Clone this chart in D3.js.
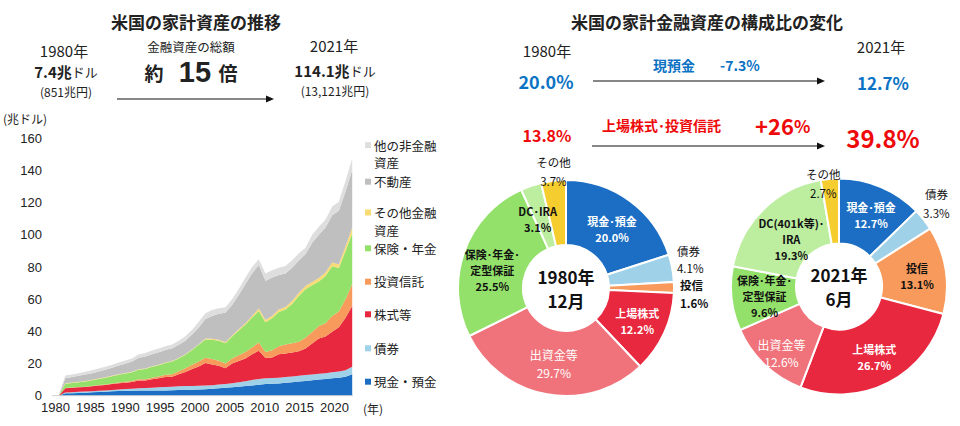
<!DOCTYPE html>
<html><head><meta charset="utf-8">
<script src="https://cdn.jsdelivr.net/npm/d3@7"></script>
<style>
body{margin:0;background:#fff}
svg{display:block}
text{font-family:"Noto Sans CJK JP","Noto Sans",sans-serif;fill:#222}
.num{font-family:"Liberation Sans",Arial,sans-serif}
</style>
</head><body>
<svg id="c" width="960" height="426"></svg>
<script>
// ---------- Area chart data (trillion USD) ----------
const years = d3.range(1977, 2022);
const cash        = [0,1.5,1.6,1.7,1.9,2.1,2.3,2.5,2.7,2.9,3.0,3.1,3.2,3.3,3.3,3.3,3.3,3.4,3.5,3.6,3.7,3.8,4.0,4.3,4.6,4.9,5.2,5.6,6.0,6.4,6.8,7.2,7.4,7.6,8.0,8.4,8.8,9.2,9.6,10.0,10.4,10.8,11.2,11.8,13.3];
const bonds       = [0,0.5,0.6,0.7,0.7,0.7,0.8,0.8,0.9,1.0,1.1,1.2,1.4,1.5,1.7,1.9,2.1,2.2,2.3,2.4,2.4,2.4,2.3,2.2,2.3,2.4,2.6,2.8,3.0,3.4,3.6,3.6,3.6,3.6,3.6,3.6,3.6,3.6,3.6,3.6,3.6,3.8,3.8,4.0,4.7];
const stocks      = [0,2.6,2.7,2.8,2.8,3.0,3.2,3.4,3.6,3.8,4.0,4.2,4.8,4.6,5.3,5.6,6.2,6.2,7.6,8.8,10.5,12.0,14.1,12.9,11.7,9.7,12.2,13.2,14.2,16.0,17.6,12.6,12.8,14.6,14.6,14.8,15.2,16.6,19.2,22.0,22.8,25.2,27.6,32.6,37.7];
const funds       = [0,0.2,0.2,0.2,0.2,0.2,0.3,0.3,0.4,0.5,0.6,0.7,0.8,0.8,0.9,1.1,1.4,1.6,1.8,2.2,2.6,3.0,3.2,3.4,3.2,3.0,3.2,3.6,4.0,4.2,5.0,3.8,4.4,5.0,5.6,5.8,6.0,6.6,7.2,7.8,8.2,9.8,9.8,11.6,13.7];
const insurance   = [0,2.6,2.8,3.0,3.3,3.6,3.8,4.1,4.5,4.8,5.1,5.4,6.0,6.4,6.8,7.1,7.4,7.8,8.0,8.4,9.2,10.4,11.4,12.0,12.4,12.6,13.6,15.4,17.0,18.6,19.6,18.4,20.0,21.2,21.8,24.4,28.4,30.2,29.0,27.6,29.4,30.8,27.0,30.0,31.5];
const otherFin    = [0,0.3,0.3,0.3,0.3,0.3,0.3,0.3,0.3,0.3,0.3,0.3,0.3,0.3,0.3,0.3,0.3,0.3,0.3,0.3,0.3,0.4,0.6,0.6,0.6,0.6,0.6,0.7,0.8,1.0,1.6,1.4,1.4,1.6,1.6,1.8,2.0,2.0,2.0,2.2,2.2,2.4,2.2,2.8,3.5];
const realEstate  = [0,3.2,3.4,3.7,4.0,4.1,4.3,4.7,5.0,5.4,5.8,6.3,7.1,7.5,7.5,7.7,7.7,7.9,8.1,8.5,9.3,10.4,12.0,14.2,16.2,18.4,19.0,21.3,24.4,26.4,27.0,24.4,23.8,21.4,20.8,20.8,20.0,19.8,24.4,26.8,28.0,29.4,33.4,34.2,35.9];
const otherNonFin = [0,1.6,1.6,1.6,1.7,1.8,1.9,1.9,1.9,1.9,2.0,2.0,2.2,2.2,2.3,2.4,2.4,2.5,2.6,2.8,3.0,3.6,3.6,3.6,3.4,3.4,3.6,3.8,4.0,4.0,3.6,4.6,4.6,4.6,4.6,4.6,4.5,4.0,5.0,5.0,5.0,5.4,5.6,6.6,7.2];

const seriesKeys   = ["cash","bonds","stocks","funds","insurance","otherFin","realEstate","otherNonFin"];
const seriesValues = [cash,bonds,stocks,funds,insurance,otherFin,realEstate,otherNonFin];
const legendLabels = [["現金・預金"],["債券"],["株式等"],["投資信託"],["保険・年金"],["その他金融","資産"],["不動産"],["他の非金融","資産"]];
const seriesColors = ["#1b6ec3","#9fd1e8","#e8283e","#f79a5b","#93e16b","#f8dc73","#bfbfbf","#dedede"];
const yTicks = d3.range(0, 161, 20);
const xTickYears = d3.range(1980, 2021, 5);

// ---------- Pie data (%) ----------
const pieCategories = ["現金・預金","債券","投信","上場株式","出資金等","保険・年金・定型保証","DC・IRA","その他"];
const pie1980 = [20.0,4.1,1.6,12.2,29.7,25.5,3.1,3.7];
const pie2021 = [12.7,3.3,13.1,26.7,12.6,9.6,19.3,2.7];
const pieColors = ["#1b6ec3","#9fd1e8","#f79a5b","#e8283e","#f0737b","#93e16b","#bdeea0","#f6cd2e"];

const svg = d3.select("#c");
const BLUE = "#0b72c4", RED = "#ee0a0a";

// ---------- Area chart ----------
const x = d3.scaleLinear().domain([1977, 2021]).range([58.6, 352.2]);
const xAxisScale = d3.scaleLinear().domain([1980, 2020]).range([55, 334]);
const y = d3.scaleLinear().domain([0, 160]).range([395.7, 138.3]);

const table = years.map((yr, i) => {
  const o = {year: yr};
  seriesKeys.forEach((k, j) => o[k] = seriesValues[j][i]);
  return o;
});
const stack = d3.stack().keys(seriesKeys)(table);
const area = d3.area().x(d => x(d.data.year)).y0(d => y(d[0])).y1(d => y(d[1]));
svg.append("g").selectAll("path").data(stack).join("path")
  .attr("d", area).attr("fill", (d, i) => seriesColors[i]);

svg.append("line").attr("x1", 52).attr("x2", 353).attr("y1", y(0)).attr("y2", y(0))
  .attr("stroke", "#d0d0d0").attr("stroke-width", 1);

const yAxis = d3.axisLeft(y).tickValues(yTicks).tickSize(0).tickPadding(0);
svg.append("g").attr("transform", "translate(42,0)").call(yAxis)
  .call(g => g.select(".domain").remove())
  .call(g => g.selectAll("text").attr("class", "num").style("font-size", "13px").attr("fill", "#222"));

const xAxis = d3.axisBottom(xAxisScale).tickValues(xTickYears).tickFormat(d3.format("d")).tickSize(0).tickPadding(0);
svg.append("g").attr("transform", "translate(0,403)").call(xAxis)
  .call(g => g.select(".domain").remove())
  .call(g => g.selectAll("text").attr("class", "num").style("font-size", "13px").attr("fill", "#222"));
svg.append("text").attr("x", 363).attr("y", 414).style("font-size", "12px").text("(年)");
svg.append("text").attr("x", 3).attr("y", 124).style("font-size", "12px").text("(兆ドル)");

// legend
const legendY = [381.7, 348.3, 314.3, 281.7, 248.3, 212.5, 181.7, 145.2];
const lg = svg.append("g");
seriesKeys.forEach((k, i) => {
  lg.append("rect").attr("x", 365).attr("y", legendY[i] - 3).attr("width", 6).attr("height", 6).attr("fill", seriesColors[i]);
  legendLabels[i].forEach((t, j) => {
    lg.append("text").attr("x", 374).attr("y", legendY[i] + j * 17.5).attr("dominant-baseline", "central")
      .style("font-size", "12.5px").text(t);
  });
});

// ---------- Headers ----------
function txt(xx, yy, s, size, opts = {}) {
  const t = svg.append("text").attr("x", xx).attr("y", yy).attr("dominant-baseline", "central")
    .attr("text-anchor", opts.anchor || "middle").style("font-size", size + "px")
    .style("font-weight", opts.bold ? "bold" : "normal");
  if (opts.fill) t.style("fill", opts.fill);
  t.text(s);
  return t;
}
function arrow(x1, x2, yy) {
  svg.append("line").attr("x1", x1).attr("x2", x2 - 6).attr("y1", yy).attr("y2", yy)
    .attr("stroke", "#111").attr("stroke-width", 1.2);
  svg.append("path").attr("d", `M${x2},${yy} L${x2 - 8},${yy - 3.5} L${x2 - 8},${yy + 3.5} Z`).attr("fill", "#111");
}

txt(196, 21, "米国の家計資産の推移", 17, {bold: true});
txt(64, 50, "1980年", 15);
txt(191, 46, "金融資産の総額", 12.5);
{
  const t = svg.append("text").attr("x", 66).attr("y", 71).attr("dominant-baseline", "central").attr("text-anchor", "middle");
  t.append("tspan").style("font-size", "15px").style("font-weight", "bold").text("7.4兆");
  t.append("tspan").style("font-size", "13px").text("ドル");
}
svg.append("text").attr("x", 154).attr("y", 81).attr("text-anchor", "middle").style("font-size", "19px").style("font-weight", "bold").text("約");
svg.append("text").attr("x", 195).attr("y", 82).attr("text-anchor", "middle").attr("class", "num")
  .style("font-size", "29px").style("font-weight", "bold").text("15");
svg.append("text").attr("x", 228).attr("y", 81).attr("text-anchor", "middle").style("font-size", "19px").style("font-weight", "bold").text("倍");
txt(66, 91, "(851兆円)", 12);
arrow(117, 274, 99);
txt(334, 45, "2021年", 15);
{
  const t = svg.append("text").attr("x", 335).attr("y", 70).attr("dominant-baseline", "central").attr("text-anchor", "middle");
  t.append("tspan").style("font-size", "15px").style("font-weight", "bold").text("114.1兆");
  t.append("tspan").style("font-size", "13px").text("ドル");
}
txt(335, 90, "(13,121兆円)", 12);

txt(707, 21, "米国の家計金融資産の構成比の変化", 17, {bold: true});
txt(547, 50, "1980年", 15);
txt(881, 46, "2021年", 15);
txt(546, 81, "20.0%", 18, {bold: true, fill: BLUE});
txt(653, 65, "現預金", 14, {bold: true, fill: BLUE, anchor: "start"});
txt(720, 65, "-7.3%", 14, {bold: true, fill: BLUE, anchor: "start"});
arrow(593, 825, 81);
txt(883, 82, "12.7%", 17, {bold: true, fill: BLUE});
txt(547, 135, "13.8%", 16, {bold: true, fill: RED});
txt(602, 125, "上場株式･投資信託", 14, {bold: true, fill: RED, anchor: "start"});
{
  const t = svg.append("text").attr("x", 755).attr("y", 125).attr("dominant-baseline", "central").style("font-weight", "bold").style("fill", RED);
  t.append("tspan").style("font-size", "22px").style("fill", RED).text("+26");
  t.append("tspan").style("font-size", "17px").style("fill", RED).text("%");
}
txt(883, 137, "39.8%", 24, {bold: true, fill: RED});
arrow(592, 825, 146);

// ---------- Pies ----------
const pieGen = d3.pie().sort(null).value(d => d);
const R = 108, r0 = 43;
const arcGen = d3.arc().innerRadius(r0).outerRadius(R);

function drawPie(cx, cy, values, centerLines, labels) {
  const g = svg.append("g").attr("transform", `translate(${cx},${cy})`);
  const arcs = pieGen(values);
  g.selectAll("path").data(arcs).join("path").attr("d", arcGen)
    .attr("fill", (d, i) => pieColors[i]).attr("stroke", "#fff").attr("stroke-width", 2);
  centerLines.forEach((s, j) => {
    g.append("text").attr("x", 0).attr("y", (j - 0.5) * 24).attr("dominant-baseline", "central")
      .attr("text-anchor", "middle").style("font-size", "17px").style("font-weight", "bold").style("fill", "#111").text(s);
  });
  labels.forEach((L, i) => {
    const a = arcs[i];
    const c = d3.arc().innerRadius(L.r).outerRadius(L.r).centroid(a);
    const n = L.lines.length;
    L.lines.forEach((s, j) => {
      g.append("text").attr("x", c[0] + (L.dx || 0)).attr("y", c[1] + (L.dy || 0) + (j - (n - 1) / 2) * (L.lh || 16))
        .attr("dominant-baseline", "central").attr("text-anchor", L.anchor || "middle")
        .style("font-size", (L.size || 11) + "px").style("font-weight", L.bold ? "bold" : "normal")
        .style("fill", L.fill || "#111").text(s);
    });
  });
}

drawPie(566, 288, pie1980, ["1980年", "12月"], [
  {lines: ["現金･預金", pie1980[0].toFixed(1) + "%"], r: 75, dx: 2, dy: 2, bold: true, fill: "#fff"},
  {lines: ["債券", pie1980[1].toFixed(1) + "%"], r: 122, dx: -9, dy: -6, anchor: "start", size: 11.5, lh: 17},
  {lines: ["投信", pie1980[2].toFixed(1) + "%"], r: 122, dx: -8, dy: 7, anchor: "start", bold: true, size: 11.5, lh: 18},
  {lines: ["上場株式", pie1980[3].toFixed(1) + "%"], r: 75, dx: 3, dy: 2, bold: true, fill: "#fff"},
  {lines: ["出資金等", pie1980[4].toFixed(1) + "%"], r: 75, dx: 1, dy: 2, fill: "#fff", size: 12, lh: 18},
  {lines: ["保険･年金･", "定型保証", pie1980[5].toFixed(1) + "%"], r: 75, dx: -3, dy: 7, bold: true},
  {lines: ["DC･IRA", pie1980[6].toFixed(1) + "%"], r: 75, dx: -4, dy: 2, bold: true},
  {lines: ["その他", pie1980[7].toFixed(1) + "%"], r: 117, dx: 1, dy: 0, size: 11.5, lh: 19}
]);

drawPie(839, 286.5, pie2021, ["2021年", "6月"], [
  {lines: ["現金･預金", pie2021[0].toFixed(1) + "%"], r: 75, dx: 3, dy: -2, bold: true, fill: "#fff"},
  {lines: ["債券", pie2021[1].toFixed(1) + "%"], r: 128, dx: -3, dy: -4, size: 11.5, lh: 19},
  {lines: ["投信", pie2021[2].toFixed(1) + "%"], r: 78, dx: 1, dy: 1, bold: true},
  {lines: ["上場株式", pie2021[3].toFixed(1) + "%"], r: 75, dx: 1, dy: 4, bold: true, fill: "#fff"},
  {lines: ["出資金等", pie2021[4].toFixed(1) + "%"], r: 85, dx: 1, dy: 5, fill: "#fff", size: 12, lh: 17},
  {lines: ["保険･年金･", "定型保証", pie2021[5].toFixed(1) + "%"], r: 75, dx: 0, dy: 1, bold: true},
  {lines: ["DC(401k等)･", "IRA", pie2021[6].toFixed(1) + "%"], r: 68, dx: 0, dy: 1, bold: true},
  {lines: ["その他", pie2021[7].toFixed(1) + "%"], r: 103, dx: -7, dy: 0, size: 11.5, lh: 19}
]);
</script>
</body></html>
